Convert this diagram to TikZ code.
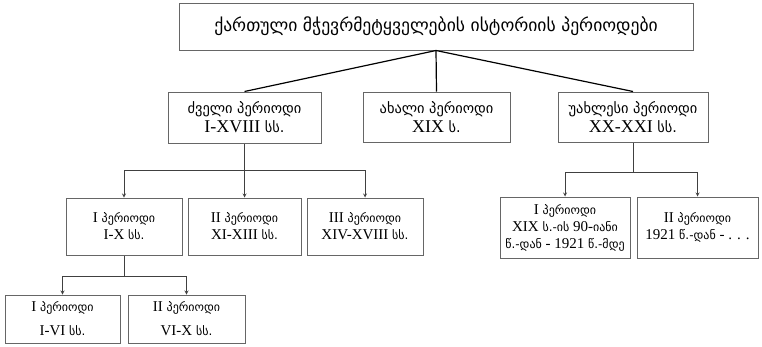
\documentclass[tikz,border=0pt]{standalone}
\usepackage{fontspec}
\setmainfont{Liberation Serif}
\newfontfamily\geo[Scale=0.8]{DejaVu Sans}
\newcommand\ka[1]{{\geo #1}}

\begin{document}
\begin{tikzpicture}[x=1pt,y=-1pt,>=stealth]
\tikzstyle{bx}=[draw=black!60,line width=1pt,align=center,inner sep=1pt]
\tikzstyle{rootbox}=[bx,font=\fontsize{22}{24}\selectfont]
\tikzstyle{midbox}=[bx,font=\fontsize{18}{19}\selectfont]
\tikzstyle{lowbox}=[bx,font=\fontsize{15}{17}\selectfont]
\tikzstyle{subbox}=[bx,font=\fontsize{15}{24}\selectfont]
\tikzstyle{arr}=[->,draw=black!75,line width=0.8pt]
\useasboundingbox (0,0) rectangle (762,346);

\node [rootbox,minimum width=514,minimum height=47] (t) at (436,26.5)
  {\ka{ქართული მჭევრმეტყველების ისტორიის პერიოდები}};

\node [midbox,minimum width=153,minimum height=51] (a) at (244.5,117.5)
  {\ka{ძველი პერიოდი}\\I-XVIII \ka{სს.}};
\node [midbox,minimum width=147,minimum height=50] (b) at (436.5,117)
  {\ka{ახალი პერიოდი}\\XIX \ka{ს.}};
\node [midbox,minimum width=150,minimum height=50] (c) at (633,117)
  {\ka{უახლესი პერიოდი}\\XX-XXI \ka{სს.}};

\node [lowbox,minimum width=116,minimum height=57] (d) at (124,226.5)
  {I \ka{პერიოდი}\\I-X \ka{სს.}};
\node [lowbox,minimum width=113,minimum height=57] (e) at (244.5,226.5)
  {II \ka{პერიოდი}\\XI-XIII \ka{სს.}};
\node [lowbox,minimum width=116,minimum height=57] (f) at (365,226.5)
  {III \ka{პერიოდი}\\XIV-XVIII \ka{სს.}};

\node [lowbox,minimum width=130,minimum height=61] (g) at (565,227.5)
  {I \ka{პერიოდი}\\XIX \ka{ს.-ის} 90-\ka{იანი}\\\ka{წ.-დან} - 1921 \ka{წ.-მდე}};
\node [lowbox,minimum width=121,minimum height=61] (h) at (697.5,227.5)
  {II \ka{პერიოდი}\\1921 \ka{წ.-დან} - . . .};

\node [subbox,minimum width=115,minimum height=48] (i) at (62.5,319)
  {I \ka{პერიოდი}\\I-VI \ka{სს.}};
\node [subbox,minimum width=117,minimum height=48] (j) at (186.5,319)
  {II \ka{პერიოდი}\\VI-X \ka{სს.}};

% title to periods
\draw [line width=1.2pt] (t.south) -- (a.north);
\draw [line width=1.2pt] (t.south) -- (b.north);
\draw [line width=1.2pt] (t.south) -- (c.north);

% old period
\coordinate (ah) at (244.5,170);
\draw [arr] (a.south) -- (ah) -| (d.north);
\draw [arr] (ah) -| (f.north);
\draw [arr] (ah) -- (e.north);

% newest period
\coordinate (ch) at (633,172);
\draw [arr] (c.south) -- (ch) -| (g.north);
\draw [arr] (ch) -| (h.north);

% first period split
\coordinate (dh) at (124,276);
\draw [arr] (d.south) -- (dh) -| (i.north);
\draw [arr] (dh) -| (j.north);
\end{tikzpicture}
\end{document}
